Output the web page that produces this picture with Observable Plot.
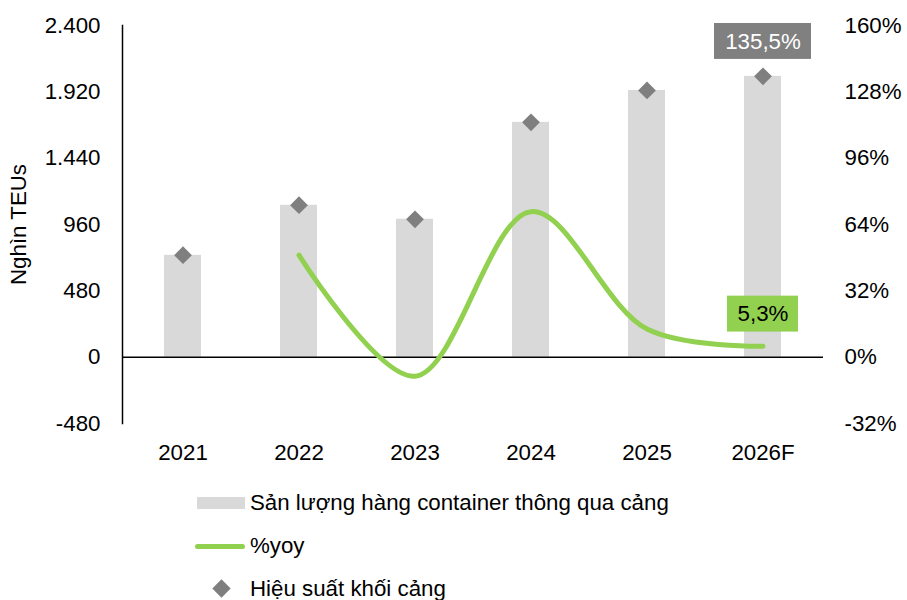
<!DOCTYPE html>
<html>
<head>
<meta charset="utf-8">
<script src="https://cdn.jsdelivr.net/npm/d3@7"></script>
<script src="https://cdn.jsdelivr.net/npm/@observablehq/plot@0.6"></script>
<style>
  body { margin: 0; background: #fff; font-family: "Liberation Sans", Arial, sans-serif; }
  #wrap { position: relative; width: 907px; height: 600px; }
  .leg { position: absolute; left: 0; font-size: 22.3px; color: #000; line-height: 26px; }
  .leg .t { position: absolute; left: 250px; white-space: nowrap; top: -13px; }
</style>
</head>
<body>
<div id="wrap"></div>
<script>
const years = ["2021", "2022", "2023", "2024", "2025", "2026F"];
const volume = [737, 1099, 998, 1699, 1930, 2032];          // Nghìn TEUs (left axis)
const yoy = [null, 49.2, -9.2, 70.2, 13.6, 5.3];           // % (right axis)
const efficiency = [49.2, 73.3, 66.5, 113.3, 128.7, 135.5]; // % (right axis)
const leftTicks = [-480, 0, 480, 960, 1440, 1920, 2400];
const rightTicks = [-32, 0, 32, 64, 96, 128, 160];
const legendLabels = ["Sản lượng hàng container thông qua cảng", "%yoy", "Hiệu suất khối cảng"];
const annotations = [
  {year: "2026F", label: "135,5%", series: "efficiency"},
  {year: "2026F", label: "5,3%", series: "yoy"}
];

const K = 2400 / 160; // percent -> left-axis units
const rows = years.map((y, i) => ({year: y, volume: volume[i], yoy: yoy[i], eff: efficiency[i]}));
const lineRows = rows.filter(d => d.yoy != null);

const loc = d3.formatLocale({decimal: ",", thousands: ".", grouping: [3], currency: ["", ""], minus: "-"});
const fmtLeft = loc.format(",");

// annotation box centers (left-axis units), offset from the series values
const ann = annotations.map(a => {
  const r = rows.find(d => d.year === a.year);
  const base = a.series === "efficiency" ? r.eff * K : r.yoy * K;
  const offset = a.series === "efficiency" ? 252 : 232;
  return {...a, yc: base + offset};
});
const annEff = ann.filter(d => d.series === "efficiency");
const annYoy = ann.filter(d => d.series === "yoy");
const boxHalf = 130;
const FS = 22.3;

const chart = Plot.plot({
  width: 907,
  height: 470,
  marginLeft: 122,
  marginRight: 84,
  marginTop: 25,
  marginBottom: 47,
  style: {fontFamily: "Liberation Sans, Arial, sans-serif", fontSize: FS + "px", color: "#000", background: "#fff"},
  x: {domain: years, paddingInner: 0.683, paddingOuter: 0.3415, label: null},
  y: {domain: [-480, 2400], label: null},
  marks: [
    Plot.barY(rows, {x: "year", y: "volume", fill: "#d9d9d9"}),
    Plot.ruleY([0], {stroke: "#000", strokeWidth: 1.5}),
    Plot.frame({anchor: "left", stroke: "#000", strokeWidth: 1.5}),
    Plot.line(lineRows, {x: "year", y: d => d.yoy * K, stroke: "#92d050", strokeWidth: 5, curve: "catmull-rom", strokeLinecap: "round"}),
    Plot.dot(rows, {x: "year", y: d => d.eff * K, symbol: "diamond2", r: 8, fill: "#7f7f7f", stroke: null}),
    Plot.barY(annEff, {x: "year", y1: d => d.yc - boxHalf, y2: d => d.yc + boxHalf, fill: "#808080", insetLeft: -30, insetRight: -30}),
    Plot.barY(annYoy, {x: "year", y1: d => d.yc - boxHalf, y2: d => d.yc + boxHalf, fill: "#92d050", insetLeft: -17, insetRight: -17}),
    Plot.text(annEff, {x: "year", y: "yc", text: "label", fill: "#fff", fontSize: FS}),
    Plot.text(annYoy, {x: "year", y: "yc", text: "label", fill: "#000", fontSize: FS}),
    Plot.axisY({anchor: "left", ticks: leftTicks, tickSize: 0, tickPadding: 22, tickFormat: fmtLeft, label: null}),
    Plot.axisY({anchor: "right", ticks: leftTicks, tickSize: 0, tickPadding: 21, tickFormat: d => (d / K) + "%", label: null}),
    Plot.axisX({tickSize: 0, tickPadding: 21, label: null}),
    Plot.text(["Nghìn TEUs"], {frameAnchor: "left", textAnchor: "middle", rotate: -90, dx: -104, fontSize: FS, fill: "#000"})
  ]
});
document.getElementById("wrap").appendChild(chart);

// legend
const wrap = document.getElementById("wrap");
const centers = [503, 546, 589];
legendLabels.forEach((lab, i) => {
  const d = document.createElement("div");
  d.className = "leg";
  d.style.top = centers[i] + "px";
  let sw = "";
  if (i === 0) sw = `<div style="position:absolute;left:197px;top:-6px;width:48px;height:12px;background:#d9d9d9"></div>`;
  if (i === 1) sw = `<div style="position:absolute;left:195px;top:-2.5px;width:50px;height:5px;border-radius:3px;background:#92d050"></div>`;
  if (i === 2) sw = `<div style="position:absolute;left:215px;top:-7px;width:13px;height:13px;background:#7f7f7f;transform:rotate(45deg)"></div>`;
  d.innerHTML = sw + `<span class="t">${lab}</span>`;
  wrap.appendChild(d);
});
</script>
</body>
</html>
